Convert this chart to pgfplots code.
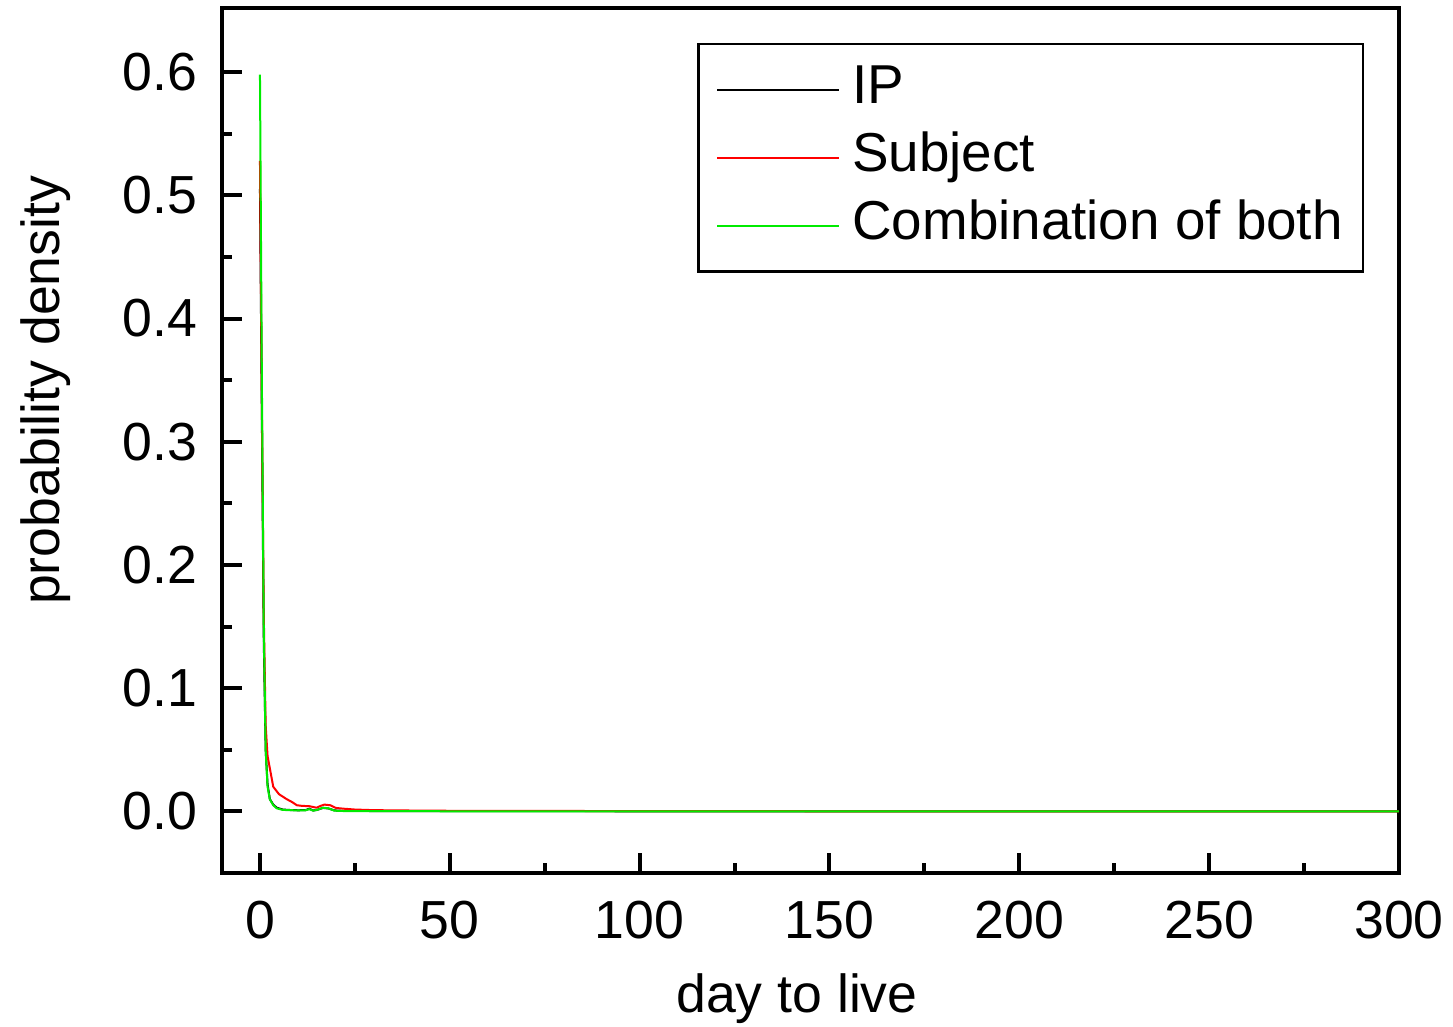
\documentclass[border=0pt]{standalone}
\usepackage{fontspec}
\setmainfont{Liberation Sans}
\usepackage{pgfplots}
\pgfplotsset{compat=1.18}

\definecolor{ipblack}{RGB}{0,0,0}
\definecolor{subjred}{RGB}{255,0,0}
\definecolor{bothgreen}{RGB}{0,235,0}

\begin{document}
\begin{tikzpicture}
\begin{axis}[
    scale only axis,
    width=294.25bp, height=216.25bp,
    xmin=-10, xmax=300,
    ymin=-0.05, ymax=0.652,
    axis line style={line width=1bp},
    every tick/.style={black, line width=1bp},
    tick align=inside,
    xtick pos=bottom, ytick pos=left,
    major tick length=5bp, minor tick length=2.5bp,
    xtick={0,50,...,300},
    ytick={0,0.1,0.2,0.3,0.4,0.5,0.6},
    minor x tick num=1, minor y tick num=1,
    font=\fontsize{13.4bp}{16bp}\selectfont,
    /pgf/number format/assume math mode=true,
    yticklabel style={/pgf/number format/.cd, fixed, fixed zerofill, precision=1, /tikz/.cd, inner xsep=0pt, xshift=-6bp},
    xticklabel style={inner ysep=0pt, yshift=-6.75bp},
    scaled y ticks=false,
    xlabel={day to live},
    ylabel={probability density},
    xlabel style={at={(axis description cs:0.4885,-0.1607)}, anchor=base},
    ylabel style={at={(axis description cs:-0.150,0.558)}, anchor=center},
    legend cell align=left,
    legend style={at={(1,1)}, anchor=north east, xshift=-8.75bp, yshift=-8.75bp,
        font=\fontsize{13.7bp}{16bp}\selectfont,
        draw=black, line width=0.6bp, inner xsep=2bp, inner ysep=2.9bp, row sep=0pt,
        nodes={text height=10bp, text depth=3.25bp, inner ysep=1.875bp, inner xsep=3bp}},
    legend image code/.code={\path (-2.5bp,0bp); \draw[#1, line width=0.5bp] (0bp,0bp) -- (30.5bp,0bp);},
]
\addplot[ipblack, line width=0.5bp] coordinates {
(0,0.505) (0.5,0.32) (1,0.14) (1.5,0.05) (2,0.022) (2.6,0.01) (3.5,0.0055) (4.4,0.003)
(6,0.0015) (8,0.0011) (10,0.0009) (12,0.001) (13,0.0022) (14,0.0007) (15,0.0012)
(16.6,0.0028) (18,0.0024) (19.6,0.0008) (22,0.0004) (30,0.0003) (50,0.0002)
(100,0.0001) (200,0) (300,0)};
\addplot[subjred, line width=0.5bp] coordinates {
(0,0.528) (0.5,0.33) (1,0.16) (1.5,0.07) (2,0.045) (2.6,0.035) (3.5,0.02) (5,0.014)
(7,0.01) (8.5,0.0075) (9.7,0.005) (11,0.0045) (13,0.0042) (14.9,0.003) (16,0.0045)
(17,0.0055) (18.5,0.005) (20,0.0028) (22,0.0022) (25,0.0015) (30,0.001) (40,0.0007)
(50,0.0005) (75,0.0004) (100,0.0002) (150,0.0001) (200,0) (300,0)};
\addplot[bothgreen, line width=0.5bp] coordinates {
(0,0.598) (0.5,0.35) (1,0.15) (1.5,0.05) (2,0.02) (2.6,0.0098) (3.5,0.005) (4.4,0.0025)
(6,0.0012) (8,0.001) (10,0.0008) (12,0.0009) (13,0.0018) (14,0.0006) (15,0.0012)
(16.6,0.003) (18,0.0025) (19.6,0.0006) (22,0.0003) (30,0.0002) (50,0.0001)
(100,0.00005) (200,0) (300,0)};
\legend{IP, Subject, Combination of both}
\end{axis}
\pgfresetboundingbox
\path (current axis.south west) ++(-55.5bp,-38.5bp) coordinate (bbsw);
\path (current axis.north east) ++(13.5bp,2bp) coordinate (bbne);
\path (bbsw) rectangle (bbne);
\end{tikzpicture}
\end{document}
